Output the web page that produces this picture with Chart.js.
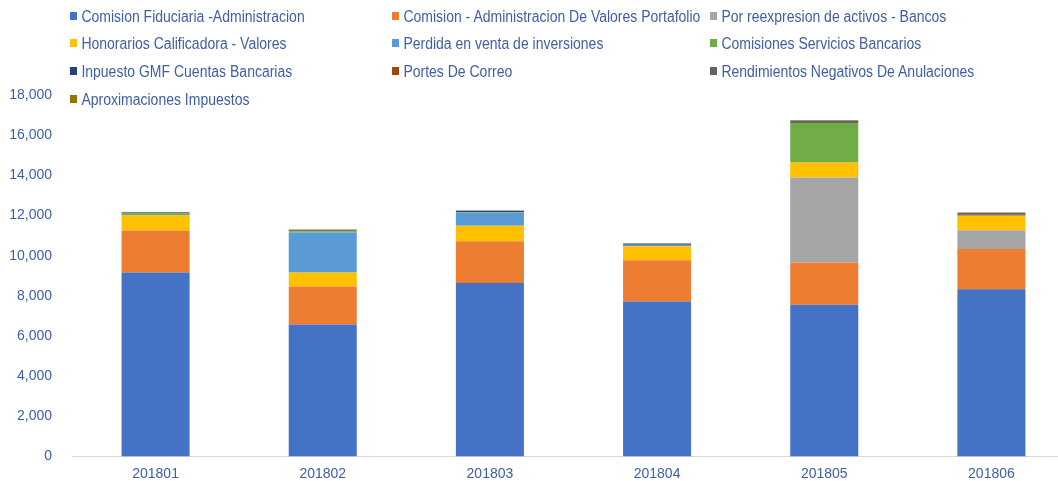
<!DOCTYPE html>
<html>
<head>
<meta charset="utf-8">
<script src="https://cdn.jsdelivr.net/npm/chart.js@4"></script>
<style>
  html, body { margin: 0; padding: 0; background: #fff; overflow: hidden; }
  #wrap { position: relative; width: 1075px; height: 481px; overflow: hidden; }
  #chart { display: block; }
  #legend { position: absolute; left: 0; top: 0; font-family: "Liberation Sans", Arial, sans-serif; font-size: 16px; color: #3f5ea8; }
  .item { position: absolute; white-space: nowrap; line-height: 18px; transform: scaleX(0.875); transform-origin: left center; }
  .box { display: inline-block; width: 8px; height: 8px; margin-right: 5px; vertical-align: 2px; }
</style>
</head>
<body>
<div id="wrap">
  <canvas id="chart" width="1075" height="485"></canvas>
  <div id="legend"></div>
</div>
<script>
const months = ['201801', '201802', '201803', '201804', '201805', '201806'];

const comisionFiduciaria = [9170, 6570, 8645, 7720, 7553, 8330];
const comisionValores = [2085, 1895, 2080, 2050, 2115, 2000];
const reexpresionBancos = [0, 0, 0, 0, 4230, 940];
const honorariosCalificadora = [745, 695, 765, 695, 745, 715];
const perdidaInversiones = [0, 2000, 660, 80, 0, 0];
const serviciosBancarios = [100, 60, 20, 0, 1965, 0];
const impuestoGmf = [20, 20, 70, 40, 40, 20];
const portesCorreo = [0, 0, 0, 0, 0, 40];
const rendimientosNegativos = [40, 40, 0, 20, 60, 80];
const aproximacionesImpuestos = [20, 20, 10, 10, 30, 30];

const yTicks = [0, 2000, 4000, 6000, 8000, 10000, 12000, 14000, 16000, 18000];

const series = [
    ['Comision Fiduciaria -Administracion', comisionFiduciaria, '#4472C4'],
    ['Comision - Administracion De Valores Portafolio', comisionValores, '#ED7D31'],
    ['Por reexpresion de activos - Bancos', reexpresionBancos, '#A5A5A5'],
    ['Honorarios Calificadora - Valores', honorariosCalificadora, '#FFC000'],
    ['Perdida en venta de inversiones', perdidaInversiones, '#5B9BD5'],
    ['Comisiones Servicios Bancarios', serviciosBancarios, '#70AD47'],
    ['Inpuesto GMF Cuentas Bancarias', impuestoGmf, '#264478'],
    ['Portes De Correo', portesCorreo, '#9E480E'],
    ['Rendimientos Negativos De Anulaciones', rendimientosNegativos, '#636363'],
    ['Aproximaciones Impuestos', aproximacionesImpuestos, '#997300']
];

const tickColor = '#3f5ea8';
const tickFont = {family: '"Liberation Sans", Arial, sans-serif', size: 14};

const chart = new Chart(document.getElementById('chart'), {
    type: 'bar',
    data: {
        labels: months,
        datasets: series.map(s => ({
            label: s[0],
            data: s[1],
            backgroundColor: s[2],
            borderWidth: 0,
            categoryPercentage: 1,
            barPercentage: 0.407
        }))
    },
    options: {
        responsive: false,
        animation: false,
        layout: {padding: {top: 95, left: 0, right: 0, bottom: 0}},
        plugins: {legend: {display: false}, tooltip: {enabled: false}},
        scales: {
            x: {
                stacked: true,
                grid: {display: false, drawTicks: false},
                border: {display: true, color: '#d9d9d9', width: 1},
                ticks: {color: tickColor, font: tickFont, padding: 9},
                afterFit: (scale) => { scale.height = 25; }
            },
            y: {
                stacked: true,
                min: 0,
                max: 18000,
                afterBuildTicks: (scale) => { scale.ticks = yTicks.map(v => ({value: v})); },
                grid: {display: false, drawTicks: false},
                border: {display: false},
                ticks: {
                    color: tickColor,
                    font: tickFont,
                    padding: 20,
                    callback: (v) => v.toLocaleString('en-US')
                },
                afterFit: (scale) => { scale.width = 72; }
            }
        }
    }
});

// legend in three columns, built from the chart's datasets
const colX = [70, 392, 710];
const rowY = [8, 35, 63, 91];
const $legend = document.getElementById('legend');
chart.data.datasets.forEach((ds, i) => {
    const el = document.createElement('div');
    el.className = 'item';
    el.style.left = colX[i % 3] + 'px';
    el.style.top = rowY[Math.floor(i / 3)] + 'px';
    el.innerHTML = `<span class="box" style="background:${ds.backgroundColor}"></span>${ds.label}`;
    $legend.appendChild(el);
});
</script>
</body>
</html>
